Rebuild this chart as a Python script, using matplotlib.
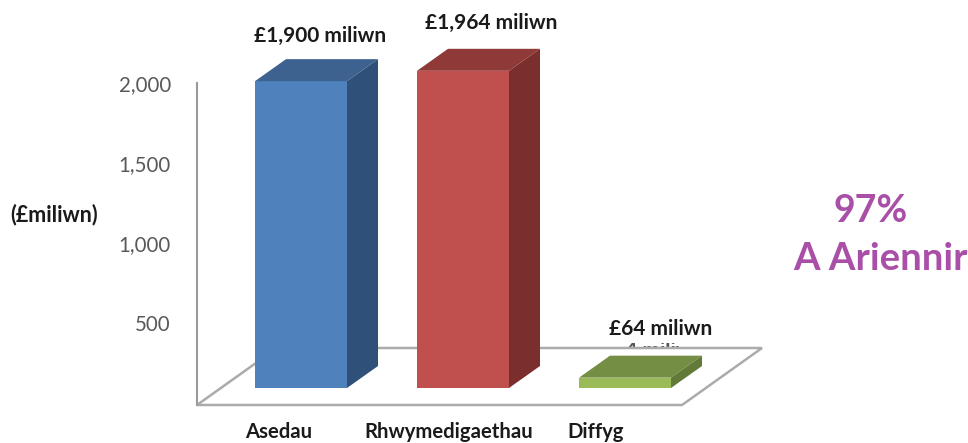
import matplotlib.pyplot as plt
from matplotlib.patches import Polygon, Rectangle

plt.rcParams["font.family"] = ["Lato", "DejaVu Sans"]

categories = ["Asedau", "Rhwymedigaethau", "Diffyg"]
values = [1900, 1964, 64]
value_labels = ["£1,900 miliwn", "£1,964 miliwn", "£64 miliwn"]
yticks = [500, 1000, 1500, 2000]

front_colors = ["#4F81BD", "#C0504D", "#9BBB59"]
top_colors = ["#3E628F", "#8F3A38", "#748E43"]
side_colors = ["#2F5078", "#7B2F2D", "#617A38"]

W, H = 968, 443
PX_PER_CAT = 162.0
PX_PER_VAL = 0.1615
X0_PX = 301.0   # centre of first bar
Y0_PX = 388.0   # bar base on the front plane


def px_x(px):
    return (px - X0_PX) / PX_PER_CAT


def px_y(py):
    return (Y0_PX - py) / PX_PER_VAL


fig = plt.figure(figsize=(W / 100, H / 100), dpi=100)
ax = fig.add_axes([0, 0, 1, 1])
ax.set_xlim(px_x(0), px_x(W))
ax.set_ylim(px_y(H), px_y(0))
ax.axis("off")

# oblique depth of the 3d look
dx = 31 / PX_PER_CAT
dy = 22 / PX_PER_VAL
bar_w = 92 / PX_PER_CAT

# floor and wall
line_col = "#ABABAB"
floor = [(197, 405), (682, 405), (762, 348), (277, 348)]
ax.add_patch(Polygon([(px_x(a), px_y(b)) for a, b in floor], closed=True,
                     facecolor="white", edgecolor=line_col, lw=1.8, zorder=1))
ax.plot([px_x(197), px_x(197)], [px_y(405), px_y(83)], color="#9A9A9A", lw=1.5, zorder=1)

xs = list(range(len(categories)))
ax.bar(xs, values, width=bar_w, color=front_colors, zorder=3)
for x, v, top, side in zip(xs, values, top_colors, side_colors):
    l, r = x - bar_w / 2, x + bar_w / 2
    ax.add_patch(Polygon([(l, v), (r, v), (r + dx, v + dy), (l + dx, v + dy)],
                         closed=True, facecolor=top, edgecolor="none", zorder=3))
    ax.add_patch(Polygon([(r, 0), (r + dx, dy), (r + dx, v + dy), (r, v)],
                         closed=True, facecolor=side, edgecolor="none", zorder=3))

# y axis tick labels
for t in yticks:
    ax.text(px_x(171), px_y(405 - t * 0.16), f"{t:,}", ha="right", va="center",
            fontsize=14.8, color="#595959")

ax.text(px_x(54), px_y(215), "(£miliwn)", ha="center", va="center",
        fontsize=15.5, fontweight="bold", color="#1A1A1A")

# value labels
label_pos = [(320, 36), (491, 23), (661, 329)]
for (a, b), s in zip(label_pos, value_labels):
    ax.text(px_x(a), px_y(b), s, ha="center", va="center",
            fontsize=15, fontweight="bold", color="#1A1A1A")

# cut-off label left behind just above the floor
ghost = ax.text(px_x(653), px_y(351), value_labels[2], ha="center", va="center",
                fontsize=15, fontweight="bold", color="#555555", zorder=0)
ghost.set_clip_on(True)
ghost.set_clip_path(Rectangle((px_x(627), px_y(348)), px_x(680) - px_x(627),
                              px_y(343) - px_y(348), transform=ax.transData))

# category labels
cat_pos = [279, 449, 596]
for a, s in zip(cat_pos, categories):
    ax.text(px_x(a), px_y(432), s, ha="center", va="center",
            fontsize=14.6, fontweight="bold", color="#1A1A1A")

ax.text(px_x(871), px_y(211), "97%", ha="center", va="center",
        fontsize=27, fontweight="bold", color="#A94FA8")
ax.text(px_x(880), px_y(259), "A Ariennir", ha="center", va="center",
        fontsize=27.5, fontweight="bold", color="#A94FA8")

fig.savefig("out.png", dpi=100, facecolor="white")
